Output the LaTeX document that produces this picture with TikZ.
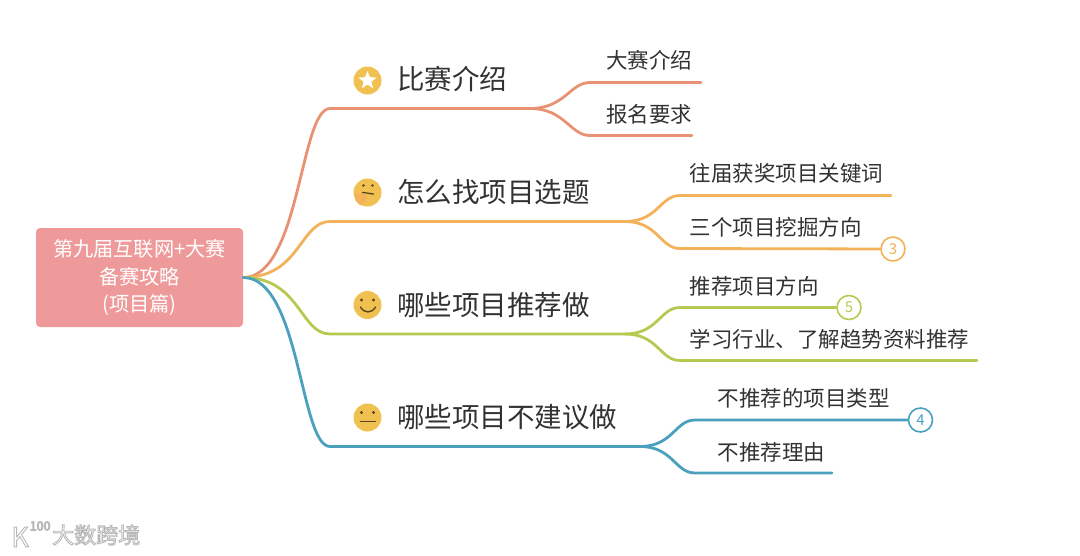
\documentclass[tikz,border=0pt]{standalone}
\usepackage{fontspec}
\setmainfont{Noto Sans CJK SC}
\usepackage{xcolor}
\usetikzlibrary{shapes.geometric,positioning,calc}
\definecolor{RootRed}{RGB}{239,154,154}
\definecolor{BranchRed}{RGB}{232,146,115}
\definecolor{BranchOrange}{RGB}{243,178,90}
\definecolor{BranchGreen}{RGB}{184,201,82}
\definecolor{BranchBlue}{RGB}{75,160,190}
\definecolor{FaceYellow}{RGB}{240,193,80}
\definecolor{FaceDark}{RGB}{90,70,30}
\definecolor{TextDark}{RGB}{50,50,50}
\newcommand{\outlined}[1]{\special{pdf:code q 2 Tr 0.9 w 0.72 G}#1\special{pdf:code 0 Tr Q}}
\begin{document}
\begin{tikzpicture}[
  x=1pt,y=-1pt,
  root/.style={fill=RootRed,rounded corners=4pt,minimum width=207pt,minimum height=99pt,
               align=center,text=white,font=\fontsize{20.2}{27.5}\selectfont,inner sep=0pt},
  topic/.style={anchor=west,text=TextDark,font=\fontsize{27.5}{30}\selectfont,inner sep=0pt},
  leaf/.style={anchor=west,text=TextDark,font=\fontsize{21.5}{24}\selectfont,inner sep=0pt},
  wire/.style={line width=2.8pt,line cap=round},
  count/.style={circle,draw=#1,line width=1.6pt,fill=white,text=#1,minimum size=24pt,
                inner sep=0pt,font=\fontsize{15}{15}\selectfont},
  face/.style={circle,fill=FaceYellow,minimum size=28pt,inner sep=0pt},
  feature/.style={draw=FaceDark,line width=1.4pt,line cap=round},
  marktext/.style={inner sep=0pt,text=white,font=\fontsize{22}{22}\selectfont},
  markk/.style={inner sep=0pt,text=white,font=\fontsize{27}{27}\selectfont},
  markn/.style={inner sep=0pt,text=white,font=\fontsize{12.5}{12.5}\selectfont},
]
\useasboundingbox (0,0) rectangle (1080,555);
\node[root] (root) at (139.5,277.5) {第九届互联网+大赛\\备赛攻略\\(项目篇)};
% topics
\node[topic] (topicA) at (397,79) {比赛介绍};
\node[topic] (topicB) at (397,192) {怎么找项目选题};
\node[topic] (topicC) at (397,305) {哪些项目推荐做};
\node[topic] (topicD) at (397,417) {哪些项目不建议做};
% leaves
\node[leaf] (leafA1) at (606,60) {大赛介绍};
\node[leaf] (leafA2) at (606,114) {报名要求};
\node[leaf] (leafB1) at (689.5,173) {往届获奖项目关键词};
\node[leaf] (leafB2) at (689.5,227) {三个项目挖掘方向};
\node[leaf] (leafC1) at (689.5,286) {推荐项目方向};
\node[leaf] (leafC2) at (689.5,339) {学习行业、了解趋势资料推荐};
\node[leaf] (leafD1) at (717.5,398) {不推荐的项目类型};
\node[leaf] (leafD2) at (717.5,452) {不推荐理由};
% counters
\node[count=BranchOrange] (numB) at (893,249) {3};
\node[count=BranchGreen] (numC) at (849,307.5) {5};
\node[count=BranchBlue] (numD) at (920.5,420) {4};
% joints
\coordinate (startA) at (330,108.5);
\coordinate (startB) at (330,221.5);
\coordinate (startC) at (330,334);
\coordinate (startD) at (330,446.5);
\coordinate (hubA) at (530,108.5);
\coordinate (hubB) at (625,221.5);
\coordinate (hubC) at (625,334);
\coordinate (hubD) at (640,446.5);
\coordinate (kneeA1) at (590,82.5);
\coordinate (kneeA2) at (590,135.5);
\coordinate (kneeB1) at (680,195.5);
\coordinate (kneeB2) at (680,248.5);
\coordinate (kneeC1) at (680,307.5);
\coordinate (kneeC2) at (680,360.5);
\coordinate (kneeD1) at (695,420);
\coordinate (kneeD2) at (695,473);
\coordinate (endA1) at (701,82.5);
\coordinate (endA2) at (692,135.5);
\coordinate (endB1) at (891,195.5);
\coordinate (endC2) at (977,360.5);
\coordinate (endD2) at (832,473);
% branches
\draw[wire,BranchRed] (root.east) .. controls +(57,0) and +(-30,0) .. (startA) -- (hubA);
\draw[wire,BranchRed] (hubA) .. controls +(35,0) and +(-20,0) .. (kneeA1) -- (endA1);
\draw[wire,BranchRed] (hubA) .. controls +(35,0) and +(-20,0) .. (kneeA2) -- (endA2);
\draw[wire,BranchOrange] (root.east) .. controls +(57,0) and +(-30,0) .. (startB) -- (hubB);
\draw[wire,BranchOrange] (hubB) .. controls +(33,0) and +(-20,0) .. (kneeB1) -- (endB1);
\draw[wire,BranchOrange] (hubB) .. controls +(33,0) and +(-20,0) .. (kneeB2) -- (numB);
\draw[wire,BranchGreen] (root.east) .. controls +(57,0) and +(-30,0) .. (startC) -- (hubC);
\draw[wire,BranchGreen] (hubC) .. controls +(33,0) and +(-20,0) .. (kneeC1) -- (numC);
\draw[wire,BranchGreen] (hubC) .. controls +(33,0) and +(-20,0) .. (kneeC2) -- (endC2);
\draw[wire,BranchBlue] (root.east) .. controls +(57,0) and +(-30,0) .. (startD) -- (hubD);
\draw[wire,BranchBlue] (hubD) .. controls +(33,0) and +(-20,0) .. (kneeD1) -- (numD);
\draw[wire,BranchBlue] (hubD) .. controls +(33,0) and +(-20,0) .. (kneeD2) -- (endD2);
% faces
\node[face] (faceA) at (367.5,80.5) {};
\node[star,star points=5,star point ratio=2.3,fill=white,minimum size=19pt,inner sep=0pt] (starA) at (faceA) {};
\node[face] (faceB) at (367.5,192.5) {};
\fill[FaceDark] ($(faceB)+(-4,-7)$) circle (1.4) ($(faceB)+(5,-7)$) circle (1.4);
\draw[feature] ($(faceB)+(-5,0)$) -- ($(faceB)+(6,1.5)$);
\fill[BranchOrange] ($(faceB)+(-13,1)$) -- ($(faceB)+(0,1)$) -- ($(faceB)+(-2,9)$) -- ($(faceB)+(-7,13)$) -- ($(faceB)+(-12,8)$) -- cycle;
\node[face] (faceC) at (367.5,305) {};
\fill[FaceDark] ($(faceC)+(-6,-5)$) circle (1.6) ($(faceC)+(6,-5)$) circle (1.6);
\draw[feature] ($(faceC)+(-7,2)$) to[out=-60,in=-120,looseness=1.3] ($(faceC)+(8,2)$);
\node[face] (faceD) at (367.5,417.5) {};
\fill[FaceDark] ($(faceD)+(-6,-5)$) circle (1.6) ($(faceD)+(6,-5)$) circle (1.6);
\draw[feature] ($(faceD)+(-7,4)$) -- ($(faceD)+(8,4)$);
% watermark
\node[marktext,anchor=west] (markT) at (52,535) {\outlined{大数跨境}};
\node[markk,anchor=east] (markK) at (29,537) {\outlined{K}};
\node[markn,anchor=west] (markN) at (29.5,526) {\outlined{100}};
\end{tikzpicture}
\end{document}
